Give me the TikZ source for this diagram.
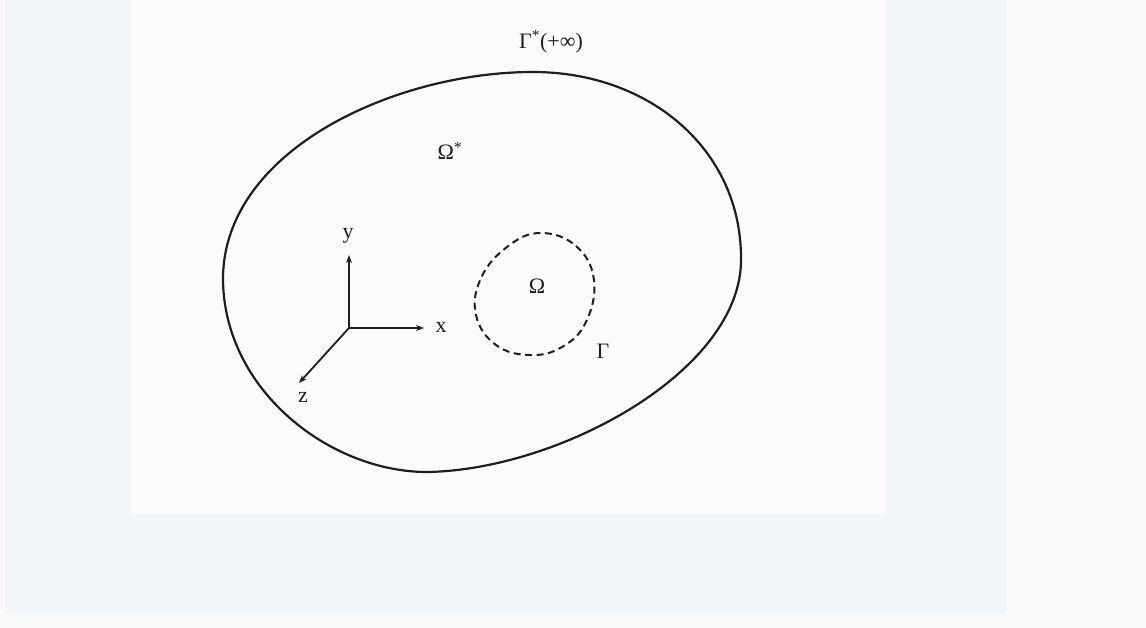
\documentclass[tikz,border=0pt]{standalone}
\usepackage{fontspec}
\setmainfont{Liberation Serif}
\usetikzlibrary{arrows.meta}
\definecolor{pagebg}{HTML}{FAFAFA}
\definecolor{panel}{HTML}{F3F6F9}
\definecolor{paper}{HTML}{FCFBFB}
\definecolor{ink}{HTML}{1E1E1E}
\tikzset{
  outerline/.style={draw=ink, line width=2.2pt},
  innerline/.style={draw=ink, line width=2pt, dash pattern=on 7pt off 4.5pt},
  axisline/.style={draw=ink, line width=1.8pt, -{Stealth[length=8pt,width=6pt]}},
  lbl/.style={text=ink, inner sep=0pt, font=\fontsize{22}{24}\selectfont},
  axlbl/.style={text=ink, inner sep=0pt, font=\fontsize{22}{24}\selectfont}
}
\begin{document}
\begin{tikzpicture}[x=1pt,y=-1pt]
\useasboundingbox (0,0) rectangle (1146,628);
\fill[pagebg] (0,0) rectangle (1146,628);
\fill[panel] (5,0) rectangle (1006,614);
\fill[paper] (130,0) rectangle (886,515);
% outer boundary
\coordinate (T) at (533,72);
\coordinate (R) at (741,258);
\coordinate (B) at (427,472);
\coordinate (L) at (223,278);
\draw[outerline] (T) .. controls (650,72) and (741,150) .. (R)
  .. controls (743,370) and (560,470) .. (B)
  .. controls (330,472) and (223,390) .. (L)
  .. controls (224,150) and (395,72) .. (T) -- cycle;
% inner boundary
\draw[innerline] plot[smooth cycle, tension=0.7] coordinates {
 (540,233) (576,246) (594,280) (586,322) (562,347) (530,355)
 (496,345) (476,315) (481,278) (507,247)};
% axes
\coordinate (O) at (349,328);
\coordinate (ytip) at (349,255);
\coordinate (xtip) at (424,328);
\coordinate (ztip) at (299,383);
\draw[axisline] (O) -- (ytip);
\draw[axisline] (O) -- (xtip);
\draw[axisline] (O) -- (ztip);
\node[axlbl] (ylab) at (348,236) {y};
\node[axlbl] (xlab) at (441,327) {x};
\node[axlbl] (zlab) at (303,397) {z};
% labels
\node[lbl] (omega) at (537,286) {Ω};
\node[lbl] (gamma) at (603,351) {Γ};
\node[lbl] (omegastar) at (450,151) {Ω\textsuperscript{*}};
\node[lbl] (gammastar) at (551,42) {Γ\textsuperscript{*}(+∞)};
\end{tikzpicture}
\end{document}
